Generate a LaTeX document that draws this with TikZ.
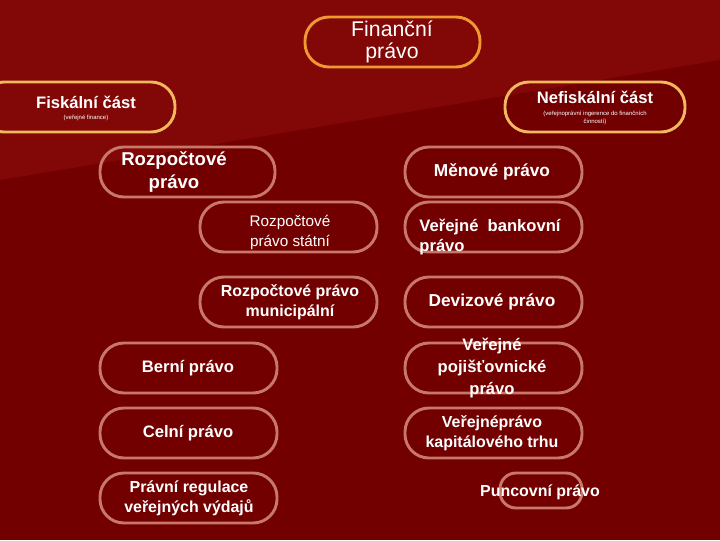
\documentclass[tikz,border=0pt]{standalone}
\usepackage{fontspec}
\setmainfont{Liberation Sans}
\definecolor{bgred}{HTML}{730000}
\definecolor{bglight}{HTML}{820707}
\definecolor{goldline}{HTML}{F2B860}
\definecolor{orangeline}{HTML}{EE9A30}
\definecolor{pinkline}{HTML}{C87868}
\tikzset{
  pill/.style={line width=2.2pt, rounded corners=18pt, draw=pinkline},
  toppill/.style={pill, draw=goldline},
  lbl/.style={text=white, font=\bfseries, align=center, inner sep=0pt},
}
\begin{document}
\begin{tikzpicture}[x=0.02646cm, y=-0.02646cm]
        % Background
        \fill[bgred] (0,0) rectangle (720,540);
        \fill[bglight] (0,0) -- (720,0) -- (720,60) -- (0,180) -- cycle;
        \useasboundingbox (0,0) rectangle (720,540);

        % Top level
        \draw[pill, draw=orangeline] (305,17) rectangle (480,67);
        \node[lbl, font=\fontsize{16}{17}\selectfont] (fin) at (392,42) {Finanční\\právo};

        \draw[toppill] (-20,82) rectangle (175,132);
        \node[lbl, font=\bfseries\fontsize{12.5}{14}\selectfont] (fis) at (86,102) {Fiskální část};
        \node[lbl, font=\fontsize{4.5}{5}\selectfont] (fisnote) at (86,118) {(veřejné finance)};

        \draw[toppill] (505,82) rectangle (685,132);
        \node[lbl, font=\bfseries\fontsize{12.5}{14}\selectfont] (nef) at (595,97) {Nefiskální část};
        \node[lbl, font=\fontsize{4.5}{6}\selectfont] (nefnote) at (595,118)
          {(veřejnoprávní ingerence do finančních\\činností)};

        % Fiscal branch
        \draw[pill] (100,147) rectangle (275,197);
        \node[lbl, font=\bfseries\fontsize{14}{17}\selectfont] (rozp) at (174,172) {Rozpočtové\\právo};

        \draw[pill] (200,202) rectangle (377,252);
        \node[lbl, font=\fontsize{11.5}{15}\selectfont] (rozpst) at (290,232) {Rozpočtové\\právo státní};

        \draw[pill] (200,277) rectangle (377,327);
        \node[lbl, font=\bfseries\fontsize{12}{15}\selectfont] (rozpmun) at (290,302) {Rozpočtové právo\\municipální};

        \draw[pill] (100,343) rectangle (277,393);
        \node[lbl, font=\bfseries\fontsize{12.5}{15}\selectfont] (bern) at (188,368) {Berní právo};

        \draw[pill] (100,408) rectangle (277,458);
        \node[lbl, font=\bfseries\fontsize{12.5}{15}\selectfont] (celn) at (188,433) {Celní právo};

        \draw[pill] (100,473) rectangle (277,523);
        \node[lbl, font=\bfseries\fontsize{12}{15}\selectfont] (vydaj) at (189,498) {Právní regulace\\veřejných výdajů};

        % Non-fiscal branch
        \draw[pill] (405,147) rectangle (582,197);
        \node[lbl, font=\bfseries\fontsize{13}{15}\selectfont] (men) at (492,172) {Měnové právo};

        \draw[pill] (405,202) rectangle (582,252);
        \node[lbl, font=\bfseries\fontsize{12.5}{15}\selectfont, align=left] (bank) at (490,237)
          {Veřejné\ \ bankovní\\právo};

        \draw[pill] (405,277) rectangle (582,327);
        \node[lbl, font=\bfseries\fontsize{13}{15}\selectfont] (deviz) at (492,302) {Devizové právo};

        \draw[pill] (405,343) rectangle (582,393);
        \node[lbl, font=\bfseries\fontsize{12.5}{16.5}\selectfont] (pojist) at (492,368)
          {Veřejné\\pojišťovnické\\právo};

        \draw[pill] (405,408) rectangle (582,458);
        \node[lbl, font=\bfseries\fontsize{12}{15}\selectfont] (kapit) at (492,433)
          {Veřejnéprávo\\kapitálového trhu};

        \draw[pill, rounded corners=12pt] (500,473) rectangle (582,508);
        \node[lbl, font=\bfseries\fontsize{12}{15}\selectfont] (punc) at (540,492) {Puncovní právo};
    \end{tikzpicture}
\end{document}
